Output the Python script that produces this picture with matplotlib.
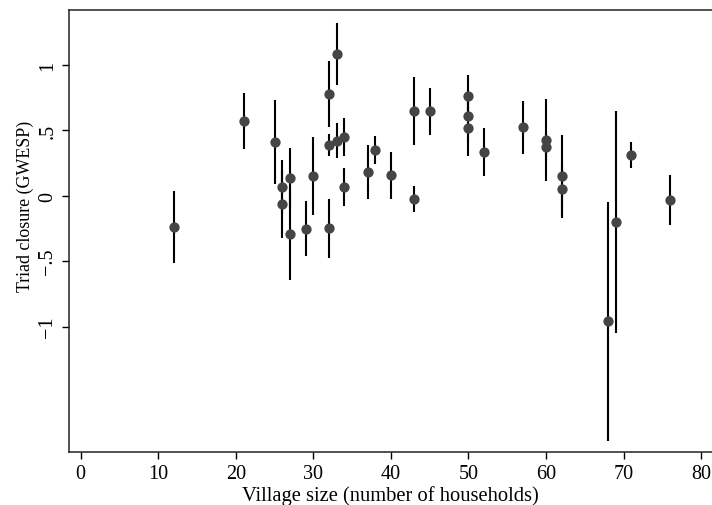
import matplotlib
matplotlib.use("Agg")
import matplotlib.pyplot as plt

# Data: village size, estimate, half-width of interval
village_size = [12, 21, 25, 26, 26, 27, 27, 29, 30, 32, 32, 32, 33, 33, 34, 34,
                37, 38, 40, 43, 43, 45, 50, 50, 50, 52, 57, 60, 60, 62, 62,
                68, 69, 71, 76]
gwesp = [-0.241, 0.568, 0.412, 0.064, -0.061, 0.135, -0.292, -0.254, 0.150,
         0.776, 0.385, -0.247, 1.082, 0.420, 0.446, 0.064,
         0.183, 0.347, 0.156, 0.649, -0.025, 0.644, 0.759, 0.611, 0.514,
         0.334, 0.522, 0.425, 0.372, 0.148, 0.049,
         -0.959, -0.201, 0.308, -0.033]
half_ci = [0.275, 0.215, 0.32, 0.21, 0.26, 0.23, 0.355, 0.21, 0.30,
           0.25, 0.085, 0.225, 0.24, 0.135, 0.145, 0.145,
           0.205, 0.108, 0.18, 0.26, 0.098, 0.18, 0.16, 0.20, 0.21,
           0.185, 0.20, 0.31, 0.107, 0.318, 0.20,
           0.91, 0.845, 0.10, 0.19]

x_ticks = [0, 10, 20, 30, 40, 50, 60, 70, 80]
y_ticks = [-1, -0.5, 0, 0.5, 1]
y_tick_labels = ["\u22121", "\u2212.5", "0", ".5", "1"]

plt.rcParams['font.family'] = ['Liberation Serif', 'DejaVu Serif']

fig = plt.figure(figsize=(7.12, 5.06), dpi=100)
ax = fig.add_axes([69 / 712, 1 - 453.3 / 506, 1 - 69 / 712, (453.3 - 11) / 506])

ax.errorbar(village_size, gwesp, yerr=half_ci, fmt='none', ecolor='black',
            elinewidth=1.5, capsize=0, zorder=2)
ax.plot(village_size, gwesp, 'o', color='#454545', markersize=7.4,
        markeredgewidth=0, zorder=3)

ax.set_xlim(-1.5, 81.4)
ax.set_ylim(-1.959, 1.418)
ax.set_xticks(x_ticks)
ax.set_yticks(y_ticks)
ax.set_yticklabels(y_tick_labels, rotation=90, va='center')
ax.tick_params(axis='both', direction='out', length=5, width=1.0,
               labelsize=14.5, colors='black', pad=3.5)

for s in ['left', 'bottom', 'top']:
    ax.spines[s].set_linewidth(1.1)
    ax.spines[s].set_color('#222222')
ax.spines['right'].set_visible(False)

ax.set_xlabel("Village size (number of households)", fontsize=14.8, labelpad=1.5)
ax.set_ylabel("Triad closure (GWESP)", fontsize=12.9)
ax.yaxis.set_label_coords(-35 / 643, (453.3 - 206) / 442.3)

fig.savefig("out.png", dpi=100)
